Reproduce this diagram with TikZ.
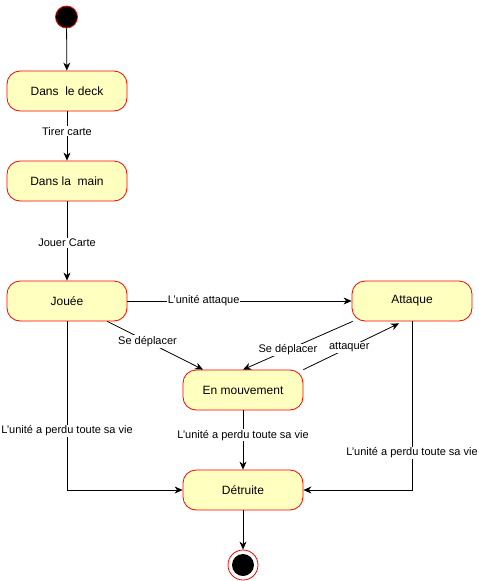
\documentclass[tikz,border=0pt]{standalone}
\usepackage{fontspec}
\setmainfont{Liberation Sans}
\usetikzlibrary{arrows.meta}
\definecolor{statefill}{HTML}{FFFFC0}
\definecolor{stateline}{HTML}{FF0000}
\begin{document}
\begin{tikzpicture}[x=1pt,y=-1pt,
  state/.style={draw=stateline, fill=statefill, rounded corners=13pt, line width=0.8pt,
    minimum width=120pt, minimum height=40pt, inner sep=0pt, font=\fontsize{12}{14}\selectfont},
  conn/.style={draw, line width=0.8pt, -{Stealth[length=8pt,width=7pt,inset=2.5pt]}},
  lbl/.style={fill=white, inner sep=1pt, font=\fontsize{11}{13}\selectfont}]
  \useasboundingbox (0,0) rectangle (479,581);

  % initial and final pseudo-states
  \node[circle, draw=stateline, fill=black, minimum size=22pt, inner sep=0pt, line width=0.8pt] (start) at (66.5,17) {};
  \node[circle, draw=stateline, fill=white, minimum size=30pt, inner sep=0pt, line width=0.8pt] (fin) at (243,565) {};
  \node[circle, fill=black, minimum size=22pt, inner sep=0pt] (finc) at (243,565) {};

  % states
  \node[state] (deck) at (67,91) {Dans~ le deck};
  \node[state] (main) at (67,181) {Dans la~ main};
  \node[state] (joue) at (67,301) {Jouée};
  \node[state] (attaque) at (412,301) {Attaque};
  \node[state] (mouv) at (243,390) {En mouvement};
  \node[state] (detruite) at (243,490) {Détruite};

  % transitions
  \draw[conn] (start) -- (deck);
  \draw[conn] (deck) -- node[lbl, pos=0.4] {Tirer carte} (main);
  \draw[conn] (main) -- node[lbl, pos=0.525] {Jouer Carte} (joue);
  \draw[conn] (joue) -- node[lbl, pos=0.34] {L'unité attaque} (attaque);
  \draw[conn] ([xshift=-20pt]joue.south east) -- node[lbl, pos=0.42] {Se déplacer} ([xshift=-40pt]mouv.north);
  \draw[conn] ([xshift=1pt]attaque.south west) -- node[lbl, pos=0.59] {Se déplacer} (mouv.north);
  \draw[conn] (mouv.north east) -- node[lbl, pos=0.48] {attaquer} ([xshift=-13pt,yshift=-2pt]attaque.south);
  \draw[conn] (joue.south) |- node[lbl, pos=0.325] {L'unité a perdu toute sa vie} (detruite.west);
  \draw[conn] (mouv) -- node[lbl, pos=0.42] {L'unité a perdu toute sa vie} (detruite);
  \draw[conn] (attaque.south) |- node[lbl, pos=0.39] {L'unité a perdu toute sa vie} (detruite.east);
  \draw[conn] (detruite) -- (fin);
\end{tikzpicture}
\end{document}
